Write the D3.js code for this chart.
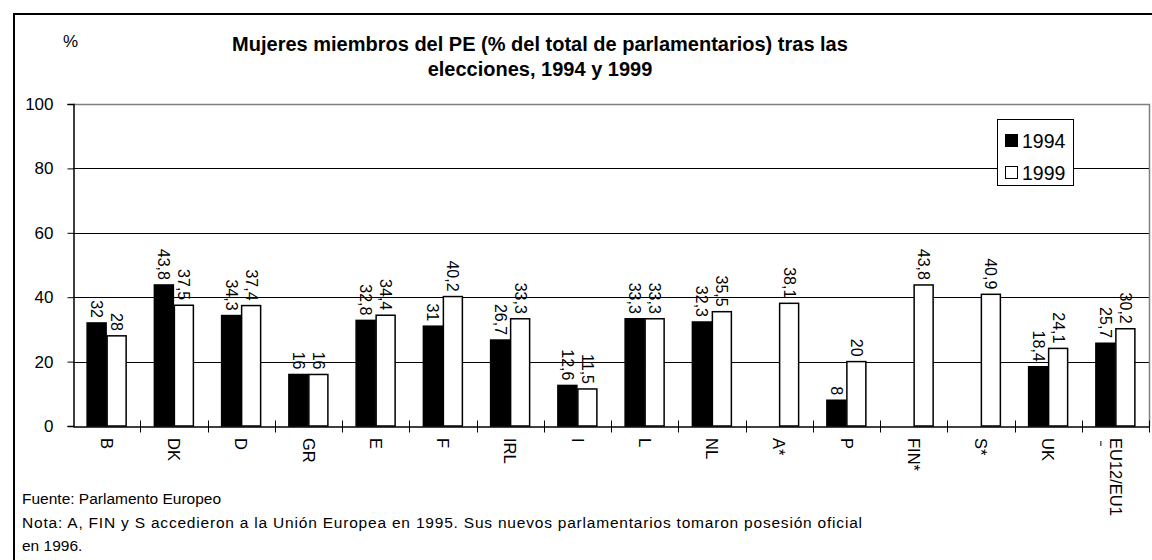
<!DOCTYPE html>
<html>
<head>
<meta charset="utf-8">
<script src="https://cdn.jsdelivr.net/npm/d3@7"></script>
<style>
  body { margin: 0; background: #fff; }
  text { font-family: "Liberation Sans", Arial, sans-serif; fill: #000; }
</style>
</head>
<body>
<script>
'use strict';

// chart data
const countries = ['B', 'DK', 'D', 'GR', 'E', 'F', 'IRL', 'I', 'L', 'NL', 'A*', 'P', 'FIN*', 'S*', 'UK', 'EU12/EU1'];
const values1994 = [32, 43.8, 34.3, 16, 32.8, 31, 26.7, 12.6, 33.3, 32.3, null, 8, null, null, 18.4, 25.7];
const values1999 = [28, 37.5, 37.4, 16, 34.4, 40.2, 33.3, 11.5, 33.3, 35.5, 38.1, 20, 43.8, 40.9, 24.1, 30.2];
const seriesNames = ['1994', '1999'];
const yTicks = [0, 20, 40, 60, 80, 100];
const titleLines = ['Mujeres miembros del PE (% del total de parlamentarios) tras las', 'elecciones, 1994 y 1999'];
const notes = [
  'Fuente: Parlamento Europeo',
  'Nota: A, FIN y S accedieron a la Unión Europea en 1995. Sus nuevos parlamentarios tomaron posesión oficial',
  'en 1996.'
];

const width = 1152, height = 560;
const plot = { left: 73, right: 1149, top: 104, bottom: 426 };
const barW = 20;

let svg = d3.select('body').append('svg')
  .attr('width', width)
  .attr('height', height);

// outer frame
svg.append('rect')
  .attr('x', 14).attr('y', 14)
  .attr('width', 1150).attr('height', 560)
  .attr('fill', 'none')
  .attr('stroke', '#000')
  .attr('stroke-width', 2);

let xScale = d3.scaleBand()
  .domain(countries)
  .range([plot.left, plot.right]);

let yScale = d3.scaleLinear()
  .domain([0, 100])
  .range([plot.bottom, plot.top]);

// gridlines
svg.append('g')
  .selectAll('line')
  .data(yTicks.filter(d => d > 0 && d < 100))
  .enter()
  .append('line')
  .attr('x1', plot.left).attr('x2', plot.right)
  .attr('y1', d => Math.round(yScale(d)) + 0.5)
  .attr('y2', d => Math.round(yScale(d)) + 0.5)
  .attr('stroke', '#000');

// plot area border (top / right in gray)
svg.append('path')
  .attr('d', `M${plot.left},${plot.top + 0.5}H${plot.right + 0.5}V${plot.bottom}`)
  .attr('fill', 'none')
  .attr('stroke', '#808080')
  .attr('stroke-width', 1.5);

// bars
let rows = countries.map((c, i) => ({ c: c, v: [values1994[i], values1999[i]] }));
let groups = svg.append('g').selectAll('g')
  .data(rows)
  .enter()
  .append('g')
  .attr('transform', d => `translate(${xScale(d.c) + xScale.bandwidth() / 2 - barW},0)`);

seriesNames.forEach((s, k) => {
  let sel = groups.filter(d => d.v[k] != null);
  sel.append('rect')
    .attr('x', k * barW + 0.5)
    .attr('y', d => yScale(d.v[k]))
    .attr('width', barW - 1)
    .attr('height', d => yScale(0) - yScale(d.v[k]))
    .attr('fill', k === 0 ? '#000' : '#fff')
    .attr('stroke', '#000')
    .attr('stroke-width', 1.5);

  // value labels, rotated to read downwards
  sel.append('text')
    .attr('transform', d => `translate(${k * barW + barW / 2},${yScale(d.v[k]) - 5}) rotate(90)`)
    .attr('text-anchor', 'end')
    .attr('dy', '0.35em')
    .style('font-size', '16px')
    .text(d => String(d.v[k]).replace('.', ','));
});

// y axis
let yAxis = d3.axisLeft(yScale).tickValues(yTicks).tickSize(6).tickFormat(d => d);
let yg = svg.append('g')
  .attr('transform', `translate(${plot.left + 0.5},0)`)
  .call(yAxis);
yg.select('.domain').attr('stroke', '#000').attr('stroke-width', 1.5);
yg.selectAll('text')
  .attr('x', -20)
  .style('font-size', '17px')
  .style('font-family', '"Liberation Sans", Arial, sans-serif');

// x axis
let xAxis = d3.axisBottom(xScale).tickSize(0).tickFormat('');
let xg = svg.append('g')
  .attr('transform', `translate(0,${plot.bottom + 0.5})`)
  .call(xAxis);
xg.select('.domain').attr('stroke', '#000').attr('stroke-width', 1.5);

// category separators
xg.selectAll('.sep')
  .data(countries.slice(1).concat(['end']))
  .enter()
  .append('line')
  .attr('x1', (d, i) => Math.round(plot.left + (i + 1) * xScale.bandwidth()) + 0.5)
  .attr('x2', (d, i) => Math.round(plot.left + (i + 1) * xScale.bandwidth()) + 0.5)
  .attr('y1', -6).attr('y2', 6)
  .attr('stroke', '#000');

// category labels
svg.append('g').selectAll('text')
  .data(countries)
  .enter()
  .append('text')
  .attr('transform', d => `translate(${xScale(d) + xScale.bandwidth() / 2},${plot.bottom + 12}) rotate(90)`)
  .attr('dy', '0.35em')
  .style('font-size', '16.5px')
  .text(d => d);

// wrapped remainder of the last label, shown as a short mark
svg.append('line')
  .attr('x1', xScale(countries[15]) + xScale.bandwidth() / 2 - 14.5)
  .attr('x2', xScale(countries[15]) + xScale.bandwidth() / 2 - 14.5)
  .attr('y1', plot.bottom + 15)
  .attr('y2', plot.bottom + 20)
  .attr('stroke', '#000');

// legend
let legend = svg.append('g').attr('transform', 'translate(997,119)');
legend.append('rect')
  .attr('x', 0.5).attr('y', 0.5)
  .attr('width', 76).attr('height', 66)
  .attr('fill', '#fff')
  .attr('stroke', '#000');
seriesNames.forEach((s, k) => {
  legend.append('rect')
    .attr('x', 8.5).attr('y', 15.5 + k * 32)
    .attr('width', 12).attr('height', 12)
    .attr('fill', k === 0 ? '#000' : '#fff')
    .attr('stroke', '#000');
  legend.append('text')
    .attr('x', 25).attr('y', 29 + k * 32)
    .style('font-size', '19.5px')
    .text(s);
});

// title and unit
svg.append('text')
  .attr('x', 63).attr('y', 47)
  .style('font-size', '17px')
  .text('%');

svg.append('g').selectAll('text')
  .data(titleLines)
  .enter()
  .append('text')
  .attr('x', 540)
  .attr('y', (d, i) => 51 + i * 25)
  .attr('text-anchor', 'middle')
  .style('font-size', '20px')
  .style('font-weight', 'bold')
  .text(d => d);

// footnotes
svg.append('g').selectAll('text')
  .data(notes)
  .enter()
  .append('text')
  .attr('x', 22)
  .attr('y', (d, i) => 504 + i * 23.5)
  .style('font-size', '15.5px')
  .each(function (d, i) {
    // the long note is spread wider in the original
    if (i === 1) d3.select(this).attr('textLength', 840).attr('lengthAdjust', 'spacing');
  })
  .text(d => d);
</script>
</body>
</html>
